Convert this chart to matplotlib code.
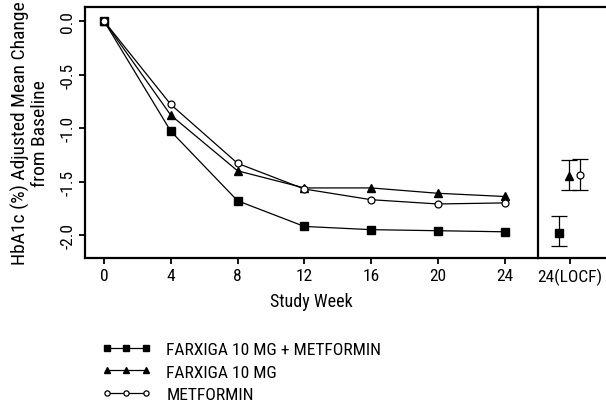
import matplotlib
matplotlib.use("Agg")
import matplotlib.pyplot as plt
from matplotlib import font_manager

entries = font_manager.fontManager.ttflist
names_avail = {f.name for f in entries}
font = None
for cand in ["Liberation Sans Narrow", "Roboto Condensed", "Open Sans Condensed", "Arial Narrow"]:
    if cand in names_avail:
        font = cand
        break
if font is None:
    font = "DejaVu Sans"
    if any(f.name == "DejaVu Sans" and str(f.stretch) in ("condensed", "semi-condensed") for f in entries):
        plt.rcParams['font.stretch'] = 'condensed'
plt.rcParams['font.family'] = [font, 'DejaVu Sans']

weeks = [0, 4, 8, 12, 16, 20, 24]
combo = [0.0, -1.03, -1.68, -1.92, -1.95, -1.96, -1.97]
farxiga = [0.0, -0.88, -1.40, -1.56, -1.56, -1.61, -1.64]
metformin = [0.0, -0.78, -1.33, -1.57, -1.67, -1.71, -1.70]

locf_labels = ["24(LOCF)"]
locf_mean = {"combo": -1.98, "farxiga": -1.45, "metformin": -1.44}
locf_lo = {"combo": -2.10, "farxiga": -1.58, "metformin": -1.58}
locf_hi = {"combo": -1.82, "farxiga": -1.30, "metformin": -1.29}
locf_offset = {"combo": -0.35, "farxiga": -0.03, "metformin": 0.29}

names = {"combo": "FARXIGA 10 MG + METFORMIN", "farxiga": "FARXIGA 10 MG", "metformin": "METFORMIN"}
styles = {
    "combo": dict(marker='s', markersize=6, mfc='black', mec='black'),
    "farxiga": dict(marker='^', markersize=5.5, mfc='black', mec='black'),
    "metformin": dict(marker='o', markersize=5, mfc='white', mec='black', mew=0.9),
}
series = {"combo": combo, "farxiga": farxiga, "metformin": metformin}

fig = plt.figure(figsize=(6.06, 4.06), dpi=100)
ax = fig.add_axes([85/606, 1-259/406, (538-85)/606, (259-7.5)/406])
ax2 = fig.add_axes([538/606, 1-259/406, (606-538)/606 + 0.01, (259-7.5)/406])

handles = []
for k in ["combo", "farxiga", "metformin"]:
    h, = ax.plot(weeks, series[k], color='black', lw=0.9, label=names[k], **styles[k])
    handles.append(h)
    ax2.errorbar([locf_offset[k]], [locf_mean[k]],
                 yerr=[[locf_mean[k]-locf_lo[k]], [locf_hi[k]-locf_mean[k]]],
                 color='black', ecolor='black', elinewidth=0.9, capsize=5.5, capthick=0.9,
                 ls='none', **styles[k])

ylim = (-2.215, 0.136)
for a in (ax, ax2):
    a.set_ylim(*ylim)
    for s in a.spines.values():
        s.set_linewidth(1.6)
    a.tick_params(direction='out', length=4, width=1.3, labelsize=12.5, pad=3)

ax.set_xlim(-1.14, 26.0)
ax.set_xticks(weeks)
ax.set_yticks([0.0, -0.5, -1.0, -1.5, -2.0])
ax.set_yticklabels(["0.0", "-0.5", "-1.0", "-1.5", "-2.0"], rotation=90, va='center')
ax.set_xlabel("Study Week", fontsize=13, labelpad=7)
ax.set_ylabel("HbA1c (%) Adjusted Mean Change\nfrom Baseline", fontsize=14, labelpad=8, linespacing=1.05)
ax.spines['right'].set_visible(False)

ax2.set_xlim(-1, 1.3)
ax2.set_xticks([0])
ax2.set_xticklabels(locf_labels)
ax2.set_yticks([])
ax2.spines['right'].set_visible(False)
ax2.patch.set_alpha(0)

fig.legend(handles=handles, loc='upper left', bbox_to_anchor=(86/606, 1-327/406),
           frameon=False, numpoints=3, handlelength=2.8, fontsize=12.6,
           labelspacing=0.42, handletextpad=0.9, markerscale=0.75)

fig.savefig("out.png", dpi=100)
